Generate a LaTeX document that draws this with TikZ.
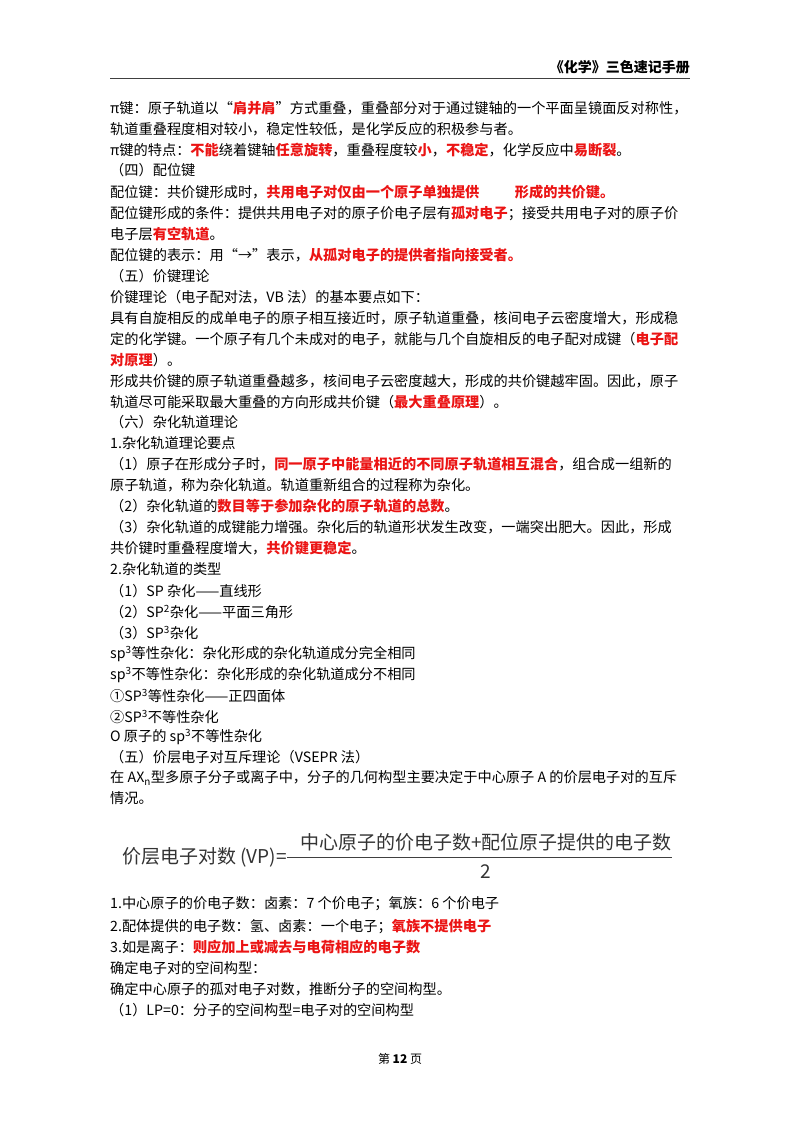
\documentclass[tikz,border=0pt]{standalone}
\usepackage{fontspec}
\setmainfont{Noto Sans CJK SC}
\usepackage{xcolor}
\definecolor{hl}{RGB}{235,20,20}
\newcommand{\R}[1]{\textcolor{hl}{\textbf{#1}}}
\newcommand{\Ln}[3]{\node[txt] (#1) at (110,-#2) {#3};}
\begin{document}
\begin{tikzpicture}[x=1pt,y=1pt,txt/.style={anchor=west,inner sep=0pt,font=\fontsize{14.2}{16}\selectfont},
  fm/.style={inner sep=0pt,font=\fontsize{19}{21}\selectfont,text=black!80}]
\useasboundingbox (0,0) rectangle (800,-1132);
\fill[white] (0,0) rectangle (800,-1132);
\node[anchor=east,inner sep=0pt,font=\fontsize{14}{16}\selectfont\bfseries] (hd) at (690,-67) {《化学》三色速记手册};
\draw[line width=0.8pt,black!75] (110,-78) -- (690,-78);
\Ln{l1}{108}{π键：原子轨道以“\R{肩并肩}”方式重叠，重叠部分对于通过键轴的一个平面呈镜面反对称性，}
\Ln{l2}{129}{轨道重叠程度相对较小，稳定性较低，是化学反应的积极参与者。}
\Ln{l3}{150}{π键的特点：\R{不能}绕着键轴\R{任意旋转}，重叠程度较\R{小}，\R{不稳定}，化学反应中\R{易断裂}。}
\Ln{l4}{170}{（四）配位键}
\Ln{l5}{192}{配位键：共价键形成时，\R{共用电子对仅由一个原子单独提供\hspace{2.5em}形成的共价键。}}
\Ln{l6}{213}{配位键形成的条件：提供共用电子对的原子价电子层有\R{孤对电子}；接受共用电子对的原子价}
\Ln{l7}{234}{电子层\R{有空轨道}。}
\Ln{l8}{255}{配位键的表示：用“→”表示，\R{从孤对电子的提供者指向接受者。}}
\Ln{l9}{276}{（五）价键理论}
\Ln{l10}{297}{价键理论（电子配对法，VB 法）的基本要点如下：}
\Ln{l11}{318}{具有自旋相反的成单电子的原子相互接近时，原子轨道重叠，核间电子云密度增大，形成稳}
\Ln{l12}{339}{定的化学键。一个原子有几个未成对的电子，就能与几个自旋相反的电子配对成键（\R{电子配}}
\Ln{l13}{360}{\R{对原理}）。}
\Ln{l14}{381}{形成共价键的原子轨道重叠越多，核间电子云密度越大，形成的共价键越牢固。因此，原子}
\Ln{l15}{402}{轨道尽可能采取最大重叠的方向形成共价键（\R{最大重叠原理}）。}
\Ln{l16}{422}{（六）杂化轨道理论}
\Ln{l17}{443}{1.杂化轨道理论要点}
\Ln{l18}{464}{（1）原子在形成分子时，\R{同一原子中能量相近的不同原子轨道相互混合}，组合成一组新的}
\Ln{l19}{485}{原子轨道，称为杂化轨道。轨道重新组合的过程称为杂化。}
\Ln{l20}{506}{（2）杂化轨道的\R{数目等于参加杂化的原子轨道的总数}。}
\Ln{l21}{527}{（3）杂化轨道的成键能力增强。杂化后的轨道形状发生改变，一端突出肥大。因此，形成}
\Ln{l22}{548}{共价键时重叠程度增大，\R{共价键更稳定}。}
\Ln{l23}{569}{2.杂化轨道的类型}
\Ln{l24}{591}{（1）SP 杂化——直线形}
\Ln{l25}{612}{（2）SP\textsuperscript{2}杂化——平面三角形}
\Ln{l26}{633}{（3）SP\textsuperscript{3}杂化}
\Ln{l27}{654}{sp\textsuperscript{3}等性杂化：杂化形成的杂化轨道成分完全相同}
\Ln{l28}{675}{sp\textsuperscript{3}不等性杂化：杂化形成的杂化轨道成分不相同}
\Ln{l29}{696}{①SP\textsuperscript{3}等性杂化——正四面体}
\Ln{l30}{717}{②SP\textsuperscript{3}不等性杂化}
\Ln{l31}{737}{O 原子的 sp\textsuperscript{3}不等性杂化}
\Ln{l32}{757}{（五）价层电子对互斥理论（VSEPR 法）}
\Ln{l33}{778}{在 AX\textsubscript{n}型多原子分子或离子中，分子的几何构型主要决定于中心原子 A 的价层电子对的互斥}
\Ln{l34}{798}{情况。}
\node[fm,anchor=west] (fl) at (122,-857) {价层电子对数 (VP)=};
\draw[line width=0.8pt,black!75] (fl.east) -- (672,-857);
\node[fm] (num) at (486,-842) {中心原子的价电子数+配位原子提供的电子数};
\node[fm] (den) at (486,-872) {2};
\Ln{l35}{904}{1.中心原子的价电子数：卤素：7 个价电子；氧族：6 个价电子}
\Ln{l36}{926}{2.配体提供的电子数：氢、卤素：一个电子；\R{氧族不提供电子}}
\Ln{l37}{947}{3.如是离子：\R{则应加上或减去与电荷相应的电子数}}
\Ln{l38}{968}{确定电子对的空间构型：}
\Ln{l39}{989}{确定中心原子的孤对电子对数，推断分子的空间构型。}
\Ln{l40}{1010}{（1）LP=0：分子的空间构型=电子对的空间构型}
\node[inner sep=0pt,font=\fontsize{12}{14}\selectfont] (ft) at (400,-1059) {第 \textbf{12} 页};
\end{tikzpicture}
\end{document}
